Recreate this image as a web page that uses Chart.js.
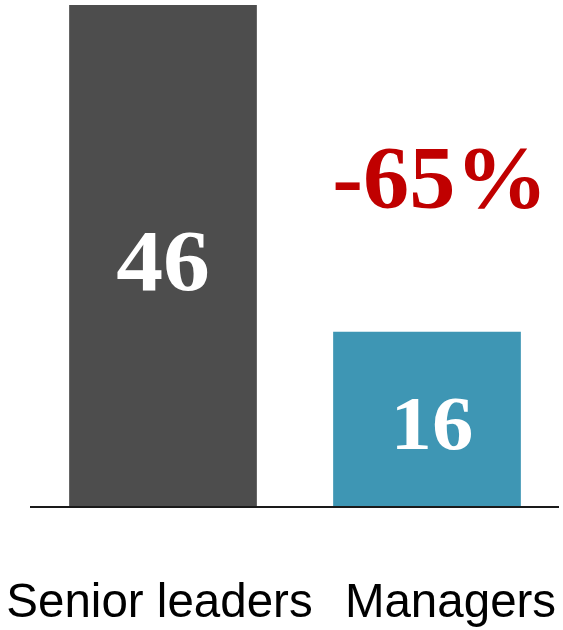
<!DOCTYPE html>
<html>
<head>
<meta charset="utf-8">
<script src="https://cdn.jsdelivr.net/npm/chart.js@4.4.1/dist/chart.umd.min.js"></script>
<style>
  html, body { margin: 0; padding: 0; background: #fff; }
  #wrap { width: 563px; height: 630px; }
</style>
</head>
<body>
<div id="wrap"><canvas id="chart" width="563" height="630"></canvas></div>
<script>
// 직급별 수치 비교 막대 차트
const categories = ['Senior leaders', 'Managers'];
const values = [46, 16];
const barColors = ['#4d4d4d', '#3e96b4'];
const changeLabel = '-65%';

const labelShift = [-3.5, 23.5];    // 카테고리 라벨 가로 보정
const valueShift = [0, 5];
const valueFontSize = [86, 76];

// 가로로 살짝 늘려서 글자 그리기
function drawStretched(ctx, text, x, y, sx) {
  ctx.save();
  ctx.translate(x, y);
  ctx.scale(sx, 1);
  ctx.fillText(text, 0, 0);
  ctx.restore();
}

const barTextPlugin = {
  id: 'barText',
  afterDatasetsDraw(chart) {
    const { ctx, chartArea, scales } = chart;
    const bars = chart.getDatasetMeta(0).data;
    const baseY = scales.y.getPixelForValue(0);

    ctx.save();
    // 기준선
    ctx.strokeStyle = '#1a1a1a';
    ctx.lineWidth = 2;
    ctx.beginPath();
    ctx.moveTo(chartArea.left - 1, baseY + 1);
    ctx.lineTo(chartArea.right, baseY + 1);
    ctx.stroke();

    // 막대 안 값
    ctx.fillStyle = '#ffffff';
    ctx.textAlign = 'center';
    ctx.textBaseline = 'alphabetic';
    bars.forEach((bar, i) => {
      const size = valueFontSize[i];
      ctx.font = `bold ${size}px "Liberation Serif", "DejaVu Serif", serif`;
      const mid = (bar.y + bar.base) / 2;
      drawStretched(ctx, String(values[i]), bar.x + valueShift[i], mid + size * 0.4, 1.09);
    });

    // 변화율
    const b2 = bars[1];
    ctx.fillStyle = '#c00000';
    ctx.font = 'bold 88px "Liberation Serif", "DejaVu Serif", serif';
    drawStretched(ctx, changeLabel, b2.x + 13, 207, 1.05);

    // 카테고리 라벨
    ctx.fillStyle = '#000000';
    ctx.font = '47.5px "Liberation Sans", Arial, sans-serif';
    bars.forEach((bar, i) => {
      ctx.fillText(categories[i], bar.x + labelShift[i], 617);
    });
    ctx.restore();
  }
};

new Chart(document.getElementById('chart'), {
  type: 'bar',
  data: {
    labels: categories,
    datasets: [{
      data: values,
      backgroundColor: barColors,
      borderWidth: 0,
      categoryPercentage: 1,
      barPercentage: 0.711
    }]
  },
  options: {
    responsive: false,
    animation: false,
    layout: { padding: { left: 31, right: 4, top: 5, bottom: 124 } },
    plugins: { legend: { display: false }, tooltip: { enabled: false } },
    scales: {
      x: { display: false },
      y: { display: false, min: 0, max: 46 }
    }
  },
  plugins: [barTextPlugin]
});
</script>
</body>
</html>
